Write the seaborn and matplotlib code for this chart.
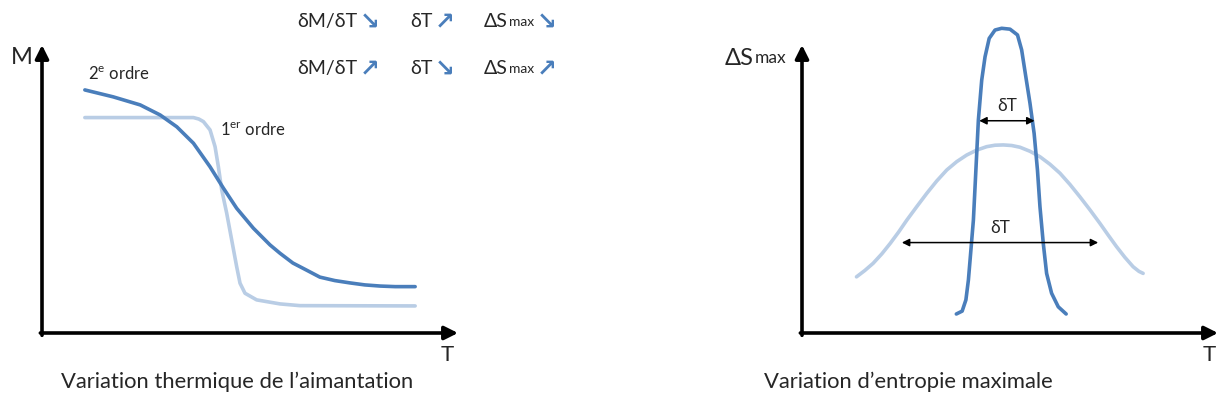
import pandas as pd
import matplotlib
matplotlib.use("Agg")
import matplotlib.pyplot as plt
import seaborn as sns

# curves (T and M / dS in arbitrary units, 0-100 = axis length)
t_second = [10.3, 17.1, 23.6, 28.4, 32.4, 36.4, 40.4, 43.6, 46.8, 50.8, 54.8, 57.2,
            60.3, 63.5, 66.8, 70.4, 74.0, 77.6, 81.3, 84.9, 89.7]
m_second = [84.4, 82.0, 79.2, 75.7, 71.6, 65.9, 57.7, 50.3, 43.3, 36.4, 30.6, 27.7,
            24.3, 21.9, 19.4, 18.2, 17.4, 16.7, 16.3, 16.1, 16.1]

t_first = [10.3, 36.4, 37.7, 38.8, 40.4, 41.6, 42.4, 43.2, 44.4, 45.6, 46.8, 47.6,
           48.8, 51.6, 57.2, 62.0, 89.7]
m_first = [74.8, 74.8, 74.3, 73.4, 70.5, 64.7, 57.7, 49.7, 41.6, 32.3, 23.0, 17.3,
           13.8, 11.5, 10.1, 9.5, 9.4]

t_narrow = [37.1, 38.5, 39.4, 40.0, 40.4, 41.2, 41.8, 42.4, 43.2, 44.0, 45.0, 46.4, 48.0,
            50.0, 51.8, 52.8, 53.8, 54.8, 55.8, 56.6, 57.2, 58.0, 58.8, 60.0, 61.6, 63.5]
s_narrow = [6.6, 7.6, 11.5, 18.4, 25.3, 39.2, 56.6, 74.0, 87.8, 95.9, 102.3, 105.2, 105.8,
            105.5, 103.5, 98.3, 89.0, 79.8, 69.3, 56.6, 43.9, 31.1, 20.7, 13.8, 9.1, 6.6]

t_wide = [13.1, 15.1, 17.1, 19.2, 21.2, 23.2, 25.2, 27.6, 30.0, 32.4, 34.8, 37.2, 39.6,
          42.0, 44.4, 46.4, 48.4, 50.4, 52.4, 54.8, 57.2, 59.6, 62.0, 64.4, 66.8, 69.2,
          71.6, 73.6, 75.6, 77.6, 79.6, 81.0, 82.0]
s_wide = [19.5, 21.7, 24.2, 27.5, 31.1, 35.0, 39.2, 43.9, 48.5, 52.8, 56.6, 59.5, 61.8,
          63.5, 64.7, 65.2, 65.3, 65.1, 64.5, 63.1, 61.2, 58.6, 55.5, 51.6, 47.3, 42.8,
          38.1, 34.0, 30.0, 26.3, 23.0, 21.4, 20.7]

# widths marked with double arrows: (T start, T end, level)
dT_narrow = (42.6, 55.9, 73.7)
dT_wide = (24.0, 71.2, 31.4)

trend_rows = [["δM/δT", "↘", "δT", "↗", "ΔS", "↘"],
              ["δM/δT", "↗", "δT", "↘", "ΔS", "↗"]]

sns.set_style("white")
plt.rcParams["font.family"] = ["Lato", "DejaVu Sans"]
plt.rcParams["mathtext.fontset"] = "custom"
plt.rcParams["mathtext.rm"] = "Lato"
plt.rcParams["lines.solid_joinstyle"] = "round"
plt.rcParams["lines.solid_capstyle"] = "round"

dark = "#4A7EBB"
light = "#B9CDE5"
W, H = 1220, 408

fig = plt.figure(figsize=(12.2, 4.08), dpi=100)


def frac(x, y):
    return x / W, 1 - y / H


def make_axes(x0):
    ax = fig.add_axes([x0 / W, (H - 333) / H, 416 / W, 288 / H])
    ax.set_xlim(0, 100)
    ax.set_ylim(0, 100)
    ax.axis("off")
    ax.annotate("", xy=(0, 1.0), xytext=(0, -0.008), xycoords="axes fraction",
                arrowprops=dict(arrowstyle="-|>", lw=2.6, color="black", mutation_scale=20,
                                shrinkA=0, shrinkB=0))
    ax.annotate("", xy=(1.0, 0), xytext=(-0.004, 0), xycoords="axes fraction",
                arrowprops=dict(arrowstyle="-|>", lw=2.6, color="black", mutation_scale=20,
                                shrinkA=0, shrinkB=0))
    return ax


def ds_max(x, y, big, small):
    t = fig.text(*frac(x, y), "ΔS", fontsize=big, va="baseline", ha="left")
    return plt.annotate("max", xy=(1.04, 0.13), xycoords=t, fontsize=small,
                        va="bottom", ha="left")


# left panel: magnetisation
ax1 = make_axes(42)
df_first = pd.DataFrame({"T": t_first, "M": m_first})
df_second = pd.DataFrame({"T": t_second, "M": m_second})
sns.lineplot(data=df_first, x="T", y="M", sort=False, color=light, lw=2.6, ax=ax1)
sns.lineplot(data=df_second, x="T", y="M", sort=False, color=dark, lw=2.6, ax=ax1)
fig.text(*frac(11, 57), "M", fontsize=17, va="center", ha="left")
fig.text(*frac(441, 355), "T", fontsize=16, va="center", ha="left")
fig.text(*frac(88, 74), r"2$^{\mathrm{e}}$ ordre", fontsize=12, va="center", ha="left")
fig.text(*frac(220, 130), r"1$^{\mathrm{er}}$ ordre", fontsize=12, va="center", ha="left")

# right panel: entropy change
ax2 = make_axes(802)
df_wide = pd.DataFrame({"T": t_wide, "S": s_wide})
df_narrow = pd.DataFrame({"T": t_narrow, "S": s_narrow})
for ln_df, col in [(df_wide, light), (df_narrow, dark)]:
    sns.lineplot(data=ln_df, x="T", y="S", sort=False, color=col, lw=2.6, ax=ax2)
for line in ax2.lines:
    line.set_clip_on(False)
for a, b, lvl in [dT_narrow, dT_wide]:
    ax2.annotate("", xy=(b, lvl), xytext=(a, lvl),
                 arrowprops=dict(arrowstyle="<|-|>", lw=1.1, color="black",
                                 mutation_scale=11, shrinkA=0, shrinkB=0))
    ax2.text((a + b) / 2, lvl + 2.2, "δT", ha="center", va="bottom", fontsize=12.5)
ds_max(725, 65, 17, 12.5)
fig.text(*frac(1203, 355), "T", fontsize=16, va="center", ha="left")

# trend notes at the top
row_y = [27, 74]
col_x = [297, 410, 484]
for r, row in enumerate(trend_rows):
    for c in range(3):
        lab, arr = row[2 * c], row[2 * c + 1]
        if lab == "ΔS":
            t = ds_max(col_x[c], row_y[r], 14, 10)
        else:
            t = fig.text(*frac(col_x[c], row_y[r]), lab, fontsize=14,
                         va="baseline", ha="left")
        plt.annotate(arr, xy=(1, 0.45), xycoords=t, xytext=(2, 0),
                     textcoords="offset points", fontsize=17, color=dark,
                     fontweight="bold", va="center", ha="left",
                     family="DejaVu Sans")

# captions
fig.text(*frac(237, 382), "Variation thermique de l\u2019aimantation", fontsize=15.8,
         ha="center", va="center")
fig.text(*frac(908, 382), "Variation d\u2019entropie maximale", fontsize=15.8,
         ha="center", va="center")

fig.savefig("out.png", dpi=100)
